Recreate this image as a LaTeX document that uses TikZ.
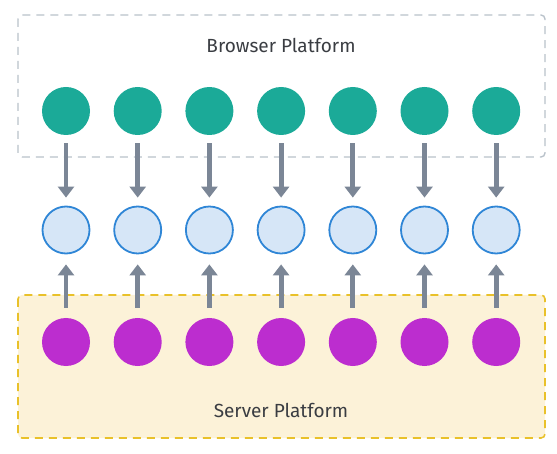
\documentclass[tikz,border=0pt]{standalone}
\usepackage{fontspec}
\setmainfont{Fira Sans}
\usetikzlibrary{arrows.meta}
\definecolor{browsercol}{HTML}{1BAA98}
\definecolor{servercol}{HTML}{BC2DCF}
\definecolor{sharedfill}{HTML}{D6E6F7}
\definecolor{sharedline}{HTML}{2F86D6}
\definecolor{arrowcol}{HTML}{7B8696}
\definecolor{boxgray}{HTML}{B9C2CA}
\definecolor{boxyellow}{HTML}{E9C12A}
\definecolor{yellowfill}{HTML}{FCF2D8}
\definecolor{titlecol}{HTML}{3A3D42}
\begin{document}
\begin{tikzpicture}[x=1pt,y=-1pt,
  browser/.style={circle,fill=browsercol,minimum size=48pt,inner sep=0pt},
  server/.style={circle,fill=servercol,minimum size=48pt,inner sep=0pt},
  shared/.style={circle,fill=sharedfill,draw=sharedline,line width=1.8pt,minimum size=47pt,inner sep=0pt},
  flow/.style={arrowcol,line width=4.8pt,-{Triangle[width=16pt,length=11pt]}},
  platform/.style={text=titlecol,font=\fontsize{19}{22}\selectfont}]
\useasboundingbox (0,0) rectangle (557,454);

% platforms
\draw[boxgray,line width=1.4pt,dash pattern=on 8pt off 6pt,rounded corners=4pt] (18,15) rectangle (545,157);
\draw[boxyellow,fill=yellowfill,line width=1.6pt,dash pattern=on 8pt off 6pt,rounded corners=4pt] (18,295) rectangle (545,438);
\node[platform] (btitle) at (281,45) {Browser Platform};
\node[platform] (stitle) at (281,410) {Server Platform};

% dots and arrows
\foreach \i in {1,...,7}{
  \pgfmathsetmacro\xx{66+71.7*(\i-1)}
  \node[browser] (b\i) at (\xx,111) {};
  \node[shared] (m\i) at (\xx,230) {};
  \node[server] (s\i) at (\xx,342) {};
  \draw[flow,shorten <=8pt,shorten >=8pt] (b\i) -- (m\i);
  \draw[flow,shorten <=10pt,shorten >=10pt] (s\i) -- (m\i);
}
\end{tikzpicture}
\end{document}
